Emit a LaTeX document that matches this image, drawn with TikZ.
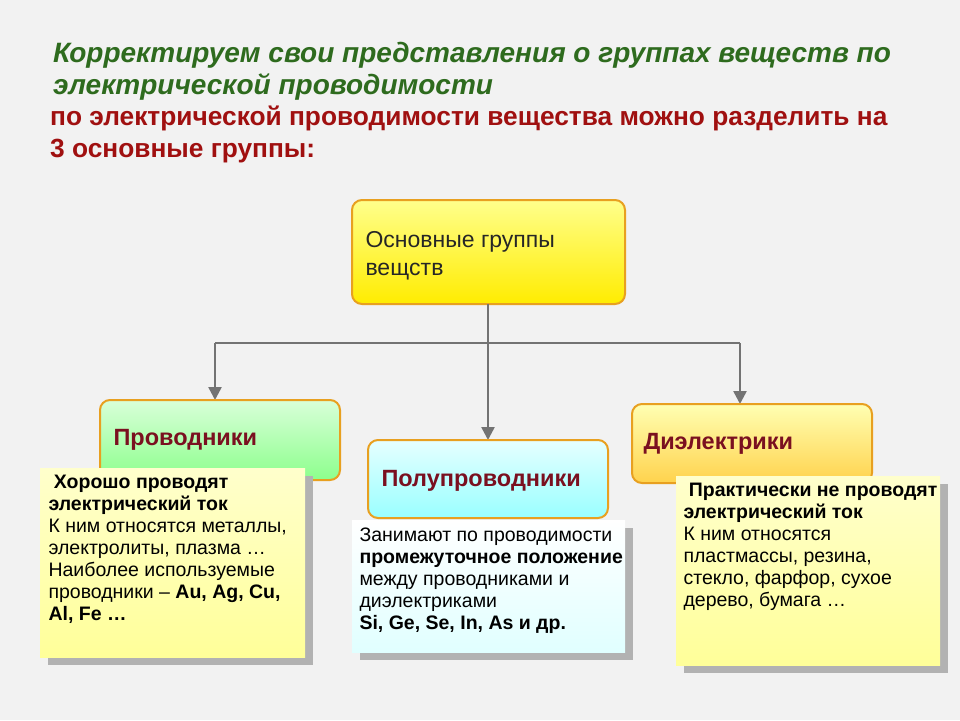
\documentclass[tikz,border=0pt]{standalone}
\usepackage{fontspec}
\setmainfont{Liberation Sans}
\usetikzlibrary{arrows.meta}
\definecolor{tgreen}{HTML}{2E6B1E}
\definecolor{tred}{HTML}{A01010}
\definecolor{lbl}{HTML}{7A1020}
\definecolor{bord}{HTML}{E8A020}
\tikzset{
 grp/.style={draw=bord,line width=2pt,rounded corners=10pt},
 shad/.style={fill=black!30},
 conn/.style={draw=black!55,line width=2.5pt},
 arr/.style={conn,-{Triangle[length=13pt,width=13pt]}},
 lab/.style={anchor=west,text=lbl,font=\fontsize{23.5}{26}\selectfont\bfseries},
 body/.style={anchor=north west,align=left,font=\fontsize{19.5}{22}\selectfont,text=black}
}
\begin{document}
\begin{tikzpicture}[x=1pt,y=-1pt]
\fill[black!5] (0,0) rectangle (960,720);
\useasboundingbox (0,0) rectangle (960,720);
\node[anchor=north west,align=left,inner sep=0pt,text=tgreen,font=\fontsize{28}{32}\selectfont\bfseries\itshape] (t1) at (53,42) {Корректируем свои представления о группах веществ по\\электрической проводимости};
\node[anchor=north west,align=left,inner sep=0pt,text=tred,font=\fontsize{26.3}{32}\selectfont\bfseries] (t2) at (50,106) {по электрической проводимости вещества можно разделить на\\3 основные группы:};
% top box
\shade[grp,top color=yellow!45,bottom color=yellow!85!orange] (352,200) rectangle (625,304);
\node[anchor=north west,align=left,font=\fontsize{23}{28}\selectfont,text=black!85] (top) at (362,228) {Основные группы\\ вещств};
\coordinate (tb) at (488,304);
\coordinate (hl) at (215,343);
\coordinate (hr) at (740,343);
\coordinate (lt) at (215,400);
\coordinate (rt) at (740,404);
\coordinate (mt) at (488,440);
\draw[conn] (hl) -- (hr);
\draw[arr] (tb) -- (mt);
\draw[arr] (hl) -- (lt);
\draw[arr] (hr) -- (rt);
% group boxes
\shade[grp,top color=green!15,bottom color=green!45!white] (100,400) rectangle (340,480);
\node[lab] (p) at (110,440) {Проводники};
\shade[grp,top color=cyan!10,bottom color=cyan!40!white] (368,440) rectangle (608,518);
\node[lab] (s) at (378,481) {Полупроводники};
\shade[grp,top color=yellow!30,bottom color=orange!50!yellow!70!white] (632,404) rectangle (872,483);
\node[lab] (d) at (640,444) {Диэлектрики};
% notes
\fill[shad] (48,476) rectangle (313,665);
\shade[top color=yellow!20,bottom color=yellow!40] (40,468) rectangle (305,657);
\node[body] (n1) at (45,472) {\textbf{ Хорошо проводят}\\\textbf{электрический ток}\\ К ним относятся металлы,\\электролиты, плазма …\\Наиболее используемые\\проводники – \textbf{Au, Ag, Cu,}\\\textbf{Al, Fe …}};
\fill[shad] (360,528) rectangle (633,660);
\shade[top color=white,bottom color=cyan!12] (352,520) rectangle (625,652);
\node[body] (n2) at (356,524) {Занимают по проводимости\\\textbf{промежуточное положение}\\между проводниками и\\диэлектриками\\\textbf{Si, Ge, Se, In, As и др.}};
\fill[shad] (684,484) rectangle (948,673);
\shade[top color=yellow!20,bottom color=yellow!40] (676,476) rectangle (940,665);
\node[body] (n3) at (680,480) {\textbf{ Практически не проводят}\\\textbf{электрический ток}\\ К ним относятся\\пластмассы, резина,\\стекло, фарфор, сухое\\дерево, бумага …};
\end{tikzpicture}
\end{document}
